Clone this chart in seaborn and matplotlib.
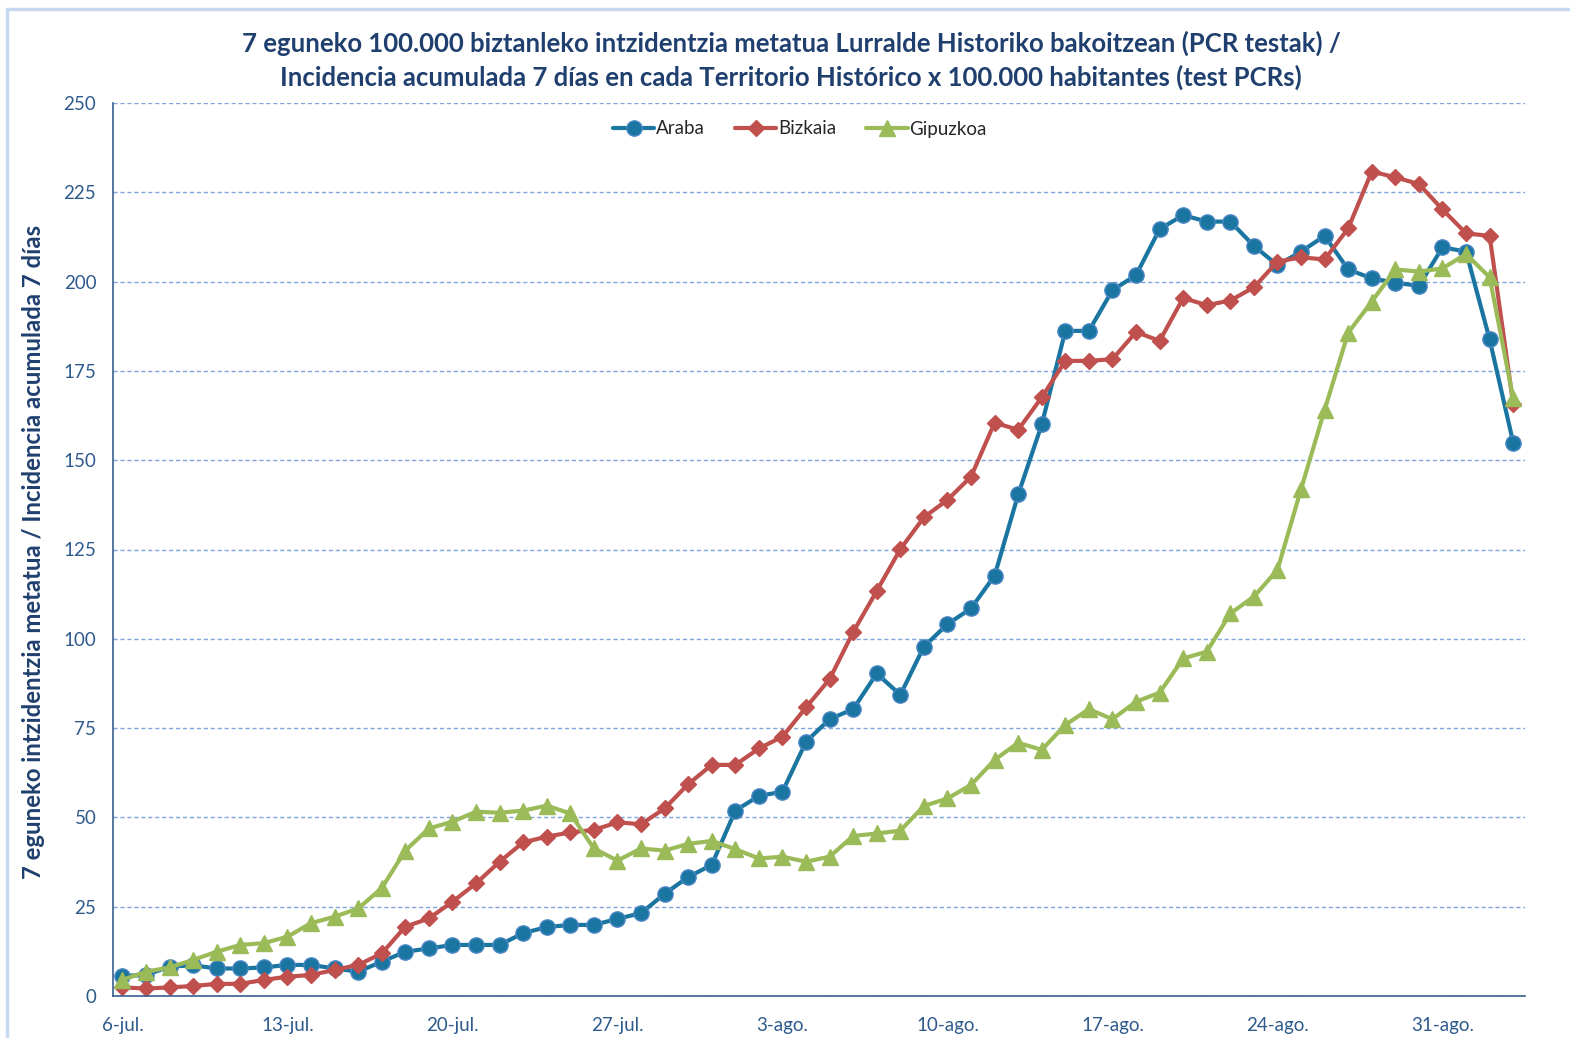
import pandas as pd
import matplotlib.pyplot as plt
import matplotlib.patches as mpatches
import seaborn as sns

# Datuak: 6-jul. -> 3-sep. (60 egun)
egunak = list(range(60))
araba = [5.6, 5.9, 8.2, 8.6, 7.7, 7.7, 8.0, 8.7, 8.7, 7.7,
         6.8, 9.6, 12.4, 13.3, 14.3, 14.3, 14.3, 17.6, 19.3, 19.9,
         19.9, 21.6, 23.2, 28.6, 33.3, 36.7, 51.9, 56.0, 57.2, 71.2,
         77.5, 80.3, 90.3, 84.3, 97.8, 104.1, 108.5, 117.7, 140.4, 160.0,
         186.2, 186.2, 197.6, 201.8, 214.7, 218.6, 216.8, 216.8, 210.0, 204.6,
         208.4, 212.8, 203.4, 200.9, 199.7, 198.8, 209.6, 208.4, 183.8, 154.9]
bizkaia = [2.4, 2.1, 2.4, 2.8, 3.4, 3.4, 4.5, 5.4, 5.9, 7.3,
           8.7, 11.9, 19.4, 21.7, 26.4, 31.5, 37.6, 43.0, 44.6, 45.8,
           46.5, 48.6, 48.1, 52.5, 59.3, 64.7, 64.7, 69.3, 72.6, 80.8,
           88.7, 101.9, 113.4, 125.1, 134.0, 138.9, 145.4, 160.5, 158.5, 167.6,
           177.8, 177.8, 178.3, 185.9, 183.4, 195.4, 193.4, 194.7, 198.4, 205.6,
           206.8, 206.2, 214.9, 230.8, 229.2, 227.3, 220.2, 213.5, 212.8, 165.7]
gipuzkoa = [4.5, 6.8, 8.0, 10.1, 12.4, 14.3, 14.8, 16.6, 20.4, 22.2,
            24.5, 30.2, 40.7, 46.9, 48.8, 51.6, 51.3, 51.9, 53.3, 51.1,
            41.3, 37.9, 41.3, 40.7, 42.6, 43.4, 41.1, 38.5, 39.0, 37.6,
            39.0, 44.8, 45.5, 46.3, 53.2, 55.3, 59.1, 66.1, 70.9, 68.9,
            75.9, 80.3, 77.5, 82.4, 84.9, 94.5, 96.4, 107.1, 111.8, 119.3,
            141.9, 164.1, 185.7, 194.4, 203.4, 202.8, 203.7, 207.7, 201.2, 167.3]

tick_pos = [0, 7, 14, 21, 28, 35, 42, 49, 56]
tick_labels = ['6-jul.', '13-jul.', '20-jul.', '27-jul.', '3-ago.',
               '10-ago.', '17-ago.', '24-ago.', '31-ago.']
y_ticks = [0, 25, 50, 75, 100, 125, 150, 175, 200, 225, 250]

df = pd.DataFrame({'egun': egunak, 'Araba': araba, 'Bizkaia': bizkaia, 'Gipuzkoa': gipuzkoa})
df_long = df.melt(id_vars='egun', var_name='lurraldea', value_name='balioa')

sns.set_style('white')
plt.rcParams['font.family'] = ['Lato', 'DejaVu Sans']

fig = plt.figure(figsize=(15.7, 10.38), dpi=100)
ax = fig.add_axes([113 / 1570, 1 - 996 / 1038, (1525 - 113) / 1570, (996 - 103) / 1038])

# kanpoko markoa
fig.patches.append(mpatches.Rectangle((7 / 1570, -0.05), 1.1, 1 - 9 / 1038 + 0.05,
                                      transform=fig.transFigure, fill=False,
                                      edgecolor='#C6D9F0', linewidth=2.5))

estiloak = {
    'Araba': dict(color='#1A76A0', marker='o', markersize=11, mec='#4A86C5'),
    'Bizkaia': dict(color='#C0504D', marker='D', markersize=8, mec='#C0504D'),
    'Gipuzkoa': dict(color='#9BBB59', marker='^', markersize=12, mec='#9BBB59'),
}
for izena, st in estiloak.items():
    sub = df_long[df_long['lurraldea'] == izena]
    sns.lineplot(data=sub, x='egun', y='balioa', ax=ax, color=st['color'],
                 marker=st['marker'], markersize=st['markersize'],
                 markeredgecolor=st['mec'], markeredgewidth=1,
                 linewidth=3, label=izena)

ax.set_xlim(-0.4, 59.5)
ax.set_ylim(0, 250)
ax.set_yticks(y_ticks)
ax.set_xticks(tick_pos)
ax.set_xticklabels(tick_labels)
ax.tick_params(axis='both', colors='#1F497D', labelsize=13.5, direction='in', length=4,
               width=1)
ax.tick_params(axis='x', length=0, pad=15)
ax.tick_params(axis='y', pad=12)
for lab in ax.get_xticklabels() + ax.get_yticklabels():
    lab.set_color('#2E5A8C')

ax.grid(axis='y', color='#7FA6DC', linestyle=(0, (3, 2)), linewidth=1)
ax.set_axisbelow(True)
for s in ['top', 'right']:
    ax.spines[s].set_visible(False)
for s in ['left', 'bottom']:
    ax.spines[s].set_color('#3A5F8F')
    ax.spines[s].set_linewidth(1.2)

ax.set_xlabel('')
ax.set_ylabel('7 eguneko intzidentzia metatua / Incidencia acumulada 7 días',
              fontsize=17.2, fontweight='bold', color='#1F3F6E')
ax.yaxis.set_label_coords(-0.048, 0.497)

fig.suptitle('7 eguneko 100.000 biztanleko intzidentzia metatua Lurralde Historiko bakoitzean (PCR testak) /\n'
             'Incidencia acumulada 7 días en cada Territorio Histórico x 100.000 habitantes (test PCRs)',
             x=791 / 1570, y=1 - 31 / 1038, va='top', fontsize=18.5, fontweight='bold',
             color='#1F3F6E', linespacing=1.4)

leg = ax.legend(loc='center', bbox_to_anchor=(800 / 1570, 1 - 129 / 1038),
                bbox_transform=fig.transFigure, ncol=3, frameon=False,
                fontsize=13.5, handlelength=2.2, handletextpad=0.1, columnspacing=1.6)
for t in leg.get_texts():
    t.set_color('#262626')

fig.savefig('out.png', dpi=100)
